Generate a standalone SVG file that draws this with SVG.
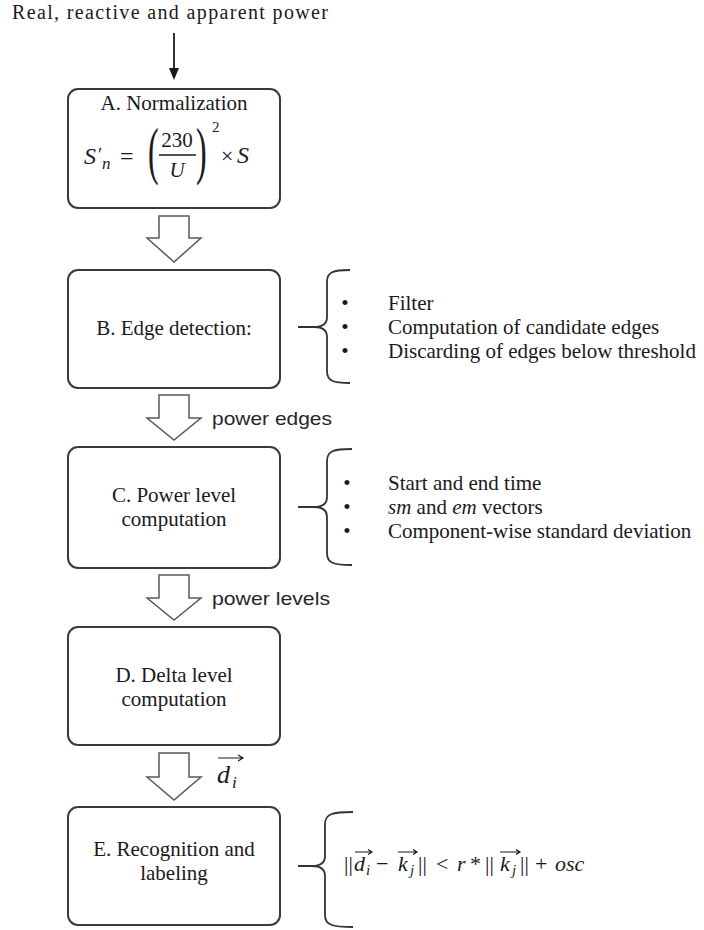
<svg xmlns="http://www.w3.org/2000/svg" width="704" height="930" viewBox="0 0 704 930">
<defs>
<style>
.box{fill:#fff;stroke:#3a3a3a;stroke-width:2}
.blk{fill:#fff;stroke:#595959;stroke-width:1.5;stroke-linejoin:miter}
.t{font-family:"Liberation Serif","DejaVu Serif",serif;font-size:21px;fill:#1a1a1a}
.c{text-anchor:middle}
.s{font-family:"Liberation Sans","DejaVu Sans",sans-serif;font-size:19px;fill:#262626}
.m{font-family:"Liberation Serif","DejaVu Serif",serif;fill:#1a1a1a}
.i{font-style:italic}
.brace{fill:none;stroke:#333;stroke-width:1.8}
.vec{fill:none;stroke:#1a1a1a;stroke-width:1.2}
</style>
</defs>
<rect width="704" height="930" fill="#fff"/>

<g id="input">
<text class="t" x="12" y="19" style="font-size:20px" textLength="316" lengthAdjust="spacing">Real, reactive  and apparent power</text>
</g>

<g id="connectors">
<line x1="174" y1="33" x2="174" y2="70" stroke="#1a1a1a" stroke-width="1.8"/>
<polygon points="169,68 179,68 174,80" fill="#1a1a1a"/>
<polygon class="blk" points="159,216 189,216 189,238 201,238 174,262 147,238 159,238"/>
<polygon class="blk" points="159,395 189,395 189,418 201,418 174,440 147,418 159,418"/>
<polygon class="blk" points="159,575 189,575 189,598 201,598 174,620 147,598 159,598"/>
<polygon class="blk" points="159,753 189,753 189,777 201,777 174,800 147,777 159,777"/>
<text class="s" x="212" y="425" textLength="120" lengthAdjust="spacingAndGlyphs">power edges</text>
<text class="s" x="212" y="605" textLength="118" lengthAdjust="spacingAndGlyphs">power levels</text>
<g id="label-di">
<text class="m i" x="217" y="783" style="font-size:26px">d</text>
<text class="m i" x="232" y="788" style="font-size:17px">i</text>
<path class="vec" d="M218 758 L243 758 M238 755 L243 758 L238 761"/>
</g>
</g>

<g id="node-A">
<rect class="box" x="68" y="89" width="212" height="119" rx="10"/>
<text class="t c" x="174" y="110">A. Normalization</text>
<text class="m i" x="84" y="164" style="font-size:24px">S</text>
<text class="m" x="98" y="161" style="font-size:19px">′</text>
<text class="m i" x="102" y="169" style="font-size:17px">n</text>
<text class="m" x="120" y="164" style="font-size:24px">=</text>
<text class="m" transform="translate(148,172) scale(1,2)" style="font-size:32px">(</text>
<text class="m c" x="177" y="147" style="font-size:21px">230</text>
<line x1="159" y1="155" x2="196" y2="155" stroke="#1a1a1a" stroke-width="1.4"/>
<text class="m i c" x="177" y="177" style="font-size:21px">U</text>
<text class="m" transform="translate(196,172) scale(1,2)" style="font-size:32px">)</text>
<text class="m" x="212" y="132" style="font-size:15px">2</text>
<text class="m" x="221" y="163" style="font-size:22px">×</text>
<text class="m i" x="237" y="163" style="font-size:24px">S</text>
</g>

<g id="node-B">
<rect class="box" x="68" y="270" width="212" height="118" rx="10"/>
<text class="t c" x="174" y="335">B. Edge detection:</text>
</g>
<g id="note-B">
<path class="brace" d="M298 327 L314 327 M350 270 C333 270 327 272 327 282 L327 317 C327 324 322 327 314 327 C322 327 327 330 327 337 L327 371 C327 381 333 383 350 383"/>
<text class="t c" x="345" y="310">•</text>
<text class="t c" x="345" y="334">•</text>
<text class="t c" x="345" y="358">•</text>
<text class="t" x="388" y="310">Filter</text>
<text class="t" x="388" y="334">Computation  of candidate edges</text>
<text class="t" x="388" y="358">Discarding  of edges below threshold</text>
</g>

<g id="node-C">
<rect class="box" x="68" y="447" width="212" height="121" rx="10"/>
<text class="t c" x="174" y="502">C. Power level</text>
<text class="t c" x="174" y="526">computation</text>
</g>
<g id="note-C">
<path class="brace" d="M298 507 L314 507 M352 449 C333 449 327 451 327 461 L327 497 C327 504 322 507 314 507 C322 507 327 510 327 517 L327 553 C327 563 333 565 352 565"/>
<text class="t c" x="347" y="490">•</text>
<text class="t c" x="347" y="514">•</text>
<text class="t c" x="347" y="538">•</text>
<text class="t" x="388" y="490">Start and end time</text>
<text class="t" x="388" y="514"><tspan class="i">sm</tspan> and <tspan class="i">em</tspan> vectors</text>
<text class="t" x="388" y="538">Component-wise  standard deviation</text>
</g>

<g id="node-D">
<rect class="box" x="68" y="627" width="212" height="118" rx="10"/>
<text class="t c" x="174" y="682">D. Delta level</text>
<text class="t c" x="174" y="706">computation</text>
</g>

<g id="node-E">
<rect class="box" x="68" y="807" width="212" height="118" rx="10"/>
<text class="t c" x="174" y="856">E. Recognition  and</text>
<text class="t c" x="174" y="880">labeling</text>
</g>
<g id="note-E">
<path class="brace" d="M298 866 L312 866 M353 812 C332 812 325 814 325 824 L325 856 C325 863 320 866 312 866 C320 866 325 869 325 876 L325 915 C325 925 332 927 353 927"/>
<g class="m" style="font-size:22px">
<text x="344" y="871">||</text>
<text class="i" x="354" y="871">d</text>
<text class="i" x="366" y="875" style="font-size:15px">i</text>
<text x="376" y="871">−</text>
<text class="i" x="398" y="871">k</text>
<text class="i" x="410" y="875" style="font-size:15px">j</text>
<text x="418" y="871">||</text>
<text x="436" y="871">&lt;</text>
<text class="i" x="457" y="871">r</text>
<text x="470" y="871">*</text>
<text x="485" y="871">||</text>
<text class="i" x="500" y="871">k</text>
<text class="i" x="512" y="875" style="font-size:15px">j</text>
<text x="520" y="871">||</text>
<text x="535" y="871">+</text>
<text class="i" x="555" y="871">osc</text>
</g>
<path class="vec" d="M355 852 L372 852 M368 849.5 L372 852 L368 854.5 M398 852 L417 852 M413 849.5 L417 852 L413 854.5 M500 852 L520 852 M516 849.5 L520 852 L516 854.5"/>
</g>
</svg>
